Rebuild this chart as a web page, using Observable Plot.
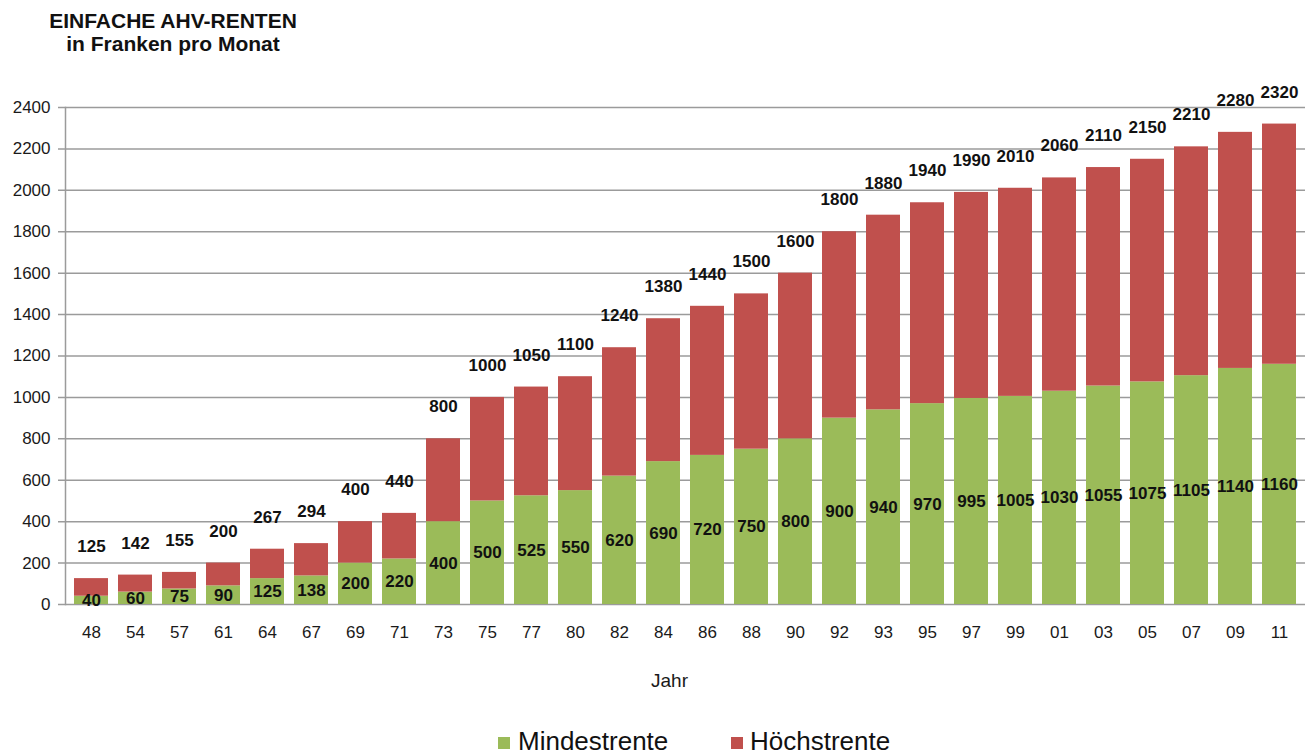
<!DOCTYPE html>
<html>
<head>
<meta charset="utf-8">
<script src="https://cdn.jsdelivr.net/npm/d3@7"></script>
<script src="https://cdn.jsdelivr.net/npm/@observablehq/plot@0.6"></script>
<style>
  body { margin: 0; background: #fff; font-family: "Liberation Sans", Arial, sans-serif; }
  #wrap { position: relative; width: 1306px; height: 756px; overflow: hidden; background: #fff; }
  #title { position: absolute; left: 38px; top: 9px; width: 270px; text-align: center; font-weight: bold; font-size: 21px; line-height: 23px; color: #111; }
  #chart { position: absolute; left: 0; top: 70px; }
  .lg { position: absolute; top: 728px; font-size: 26px; line-height: 26px; color: #111; }
  .sw { position: absolute; top: 737px; width: 12px; height: 12px; }
</style>
</head>
<body>
<div id="wrap">
  <div id="title">EINFACHE AHV-RENTEN<br>in Franken pro Monat</div>
  <div id="chart"></div>
  <div id="legend"></div>
</div>
<script>
const years = ["48","54","57","61","64","67","69","71","73","75","77","80","82","84","86","88","90","92","93","95","97","99","01","03","05","07","09","11"];
const mindestrente = [40,60,75,90,125,138,200,220,400,500,525,550,620,690,720,750,800,900,940,970,995,1005,1030,1055,1075,1105,1140,1160];
const hoechstrente = [125,142,155,200,267,294,400,440,800,1000,1050,1100,1240,1380,1440,1500,1600,1800,1880,1940,1990,2010,2060,2110,2150,2210,2280,2320];
const yTicks = [0,200,400,600,800,1000,1200,1400,1600,1800,2000,2200,2400];
const seriesNames = ["Mindestrente", "Höchstrente"];
const seriesColors = ["#9BBB59", "#C0504D"];
const xTitle = "Jahr";

const rows = years.map((year, i) => ({year, min: mindestrente[i], total: hoechstrente[i]}));
const bars = rows.flatMap(d => [
  {year: d.year, series: "Mindestrente", y1: 0, y2: d.min},
  {year: d.year, series: "Höchstrente", y1: d.min, y2: d.total}
]);

const chart = Plot.plot({
  width: 1306,
  height: 620,
  marginTop: 37,
  marginBottom: 86,
  marginLeft: 65,
  marginRight: 1,
  style: {fontFamily: "'Liberation Sans', Arial, sans-serif", fontSize: "17px", color: "#1a1a1a", background: "white"},
  x: {type: "band", domain: years, paddingInner: 0.22, paddingOuter: 0.11},
  y: {domain: [0, 2400]},
  color: {domain: seriesNames, range: seriesColors},
  marks: [
    Plot.ruleY(yTicks, {y: d => d, stroke: "#9b9b9b", strokeWidth: 1.5, insetLeft: -7}),
    Plot.barY(bars, {x: "year", y1: "y1", y2: "y2", fill: "series"}),
    Plot.frame({anchor: "left", stroke: "#9b9b9b", strokeWidth: 1.5}),
    Plot.axisY(yTicks, {tickSize: 0, tickPadding: 15, fontSize: 17, tickFormat: d => String(d), label: null}),
    Plot.axisX({tickSize: 0, tickPadding: 21, fontSize: 17, label: null}),
    Plot.text([xTitle], {frameAnchor: "bottom", text: d => d, dy: 76, dx: -16, lineAnchor: "middle", fontSize: 19, fill: "#1a1a1a"}),
    Plot.text(rows, {x: "year", y: "total", text: d => String(d.total), dy: -32, fontWeight: "bold", fontSize: 17, fill: "#111"}),
    Plot.text(rows, {x: "year", y: d => d.min / 2, text: d => String(d.min), fontWeight: "bold", fontSize: 17, fill: "#111"})
  ]
});
document.getElementById("chart").appendChild(chart);

const legend = document.getElementById("legend");
const legendPos = [[498, 518], [731, 750]];
seriesNames.forEach((name, i) => {
  const sw = document.createElement("div");
  sw.className = "sw";
  sw.style.left = legendPos[i][0] + "px";
  sw.style.background = seriesColors[i];
  legend.appendChild(sw);
  const t = document.createElement("div");
  t.className = "lg";
  t.style.left = legendPos[i][1] + "px";
  t.textContent = name;
  legend.appendChild(t);
});
</script>
</body>
</html>
